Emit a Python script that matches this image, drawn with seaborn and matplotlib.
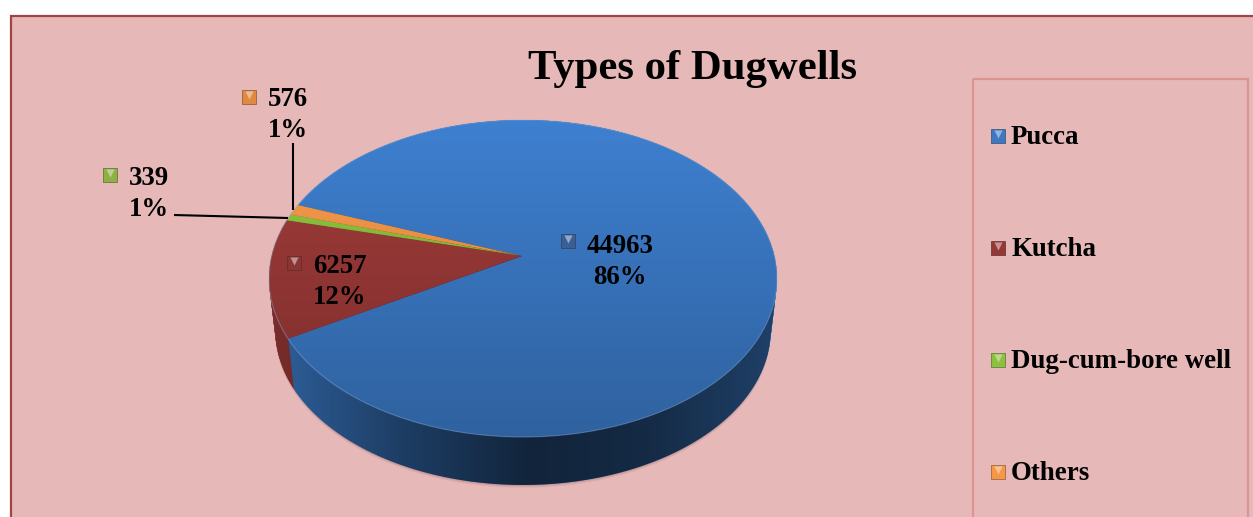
import numpy as np
import seaborn as sns, matplotlib.pyplot as plt
from matplotlib.patches import Circle, Ellipse, PathPatch, Rectangle
from matplotlib.path import Path

categories = ["Pucca", "Kutcha", "Dug-cum-bore well", "Others"]
well_counts = [44963, 6257, 339, 576]
pie_colors = ["#3E80D0", "#A23C3A", "#93C941", "#FF9E4C"]
chart_title = "Types of Dugwells"

WIDTH, HEIGHT = 1253, 517
BG = "#E6B8B7"
# pie geometry in picture pixels
RX, RY = 254, 158.5
SQUASH = RY / RX
CX, CY = 523, 278.5
APEX_X, APEX_Y = 522, 256
# the lower rim is a bit smaller, like in perspective
BOTTOM_SCALE = 0.975
DEPTH = 485 - (CY + RY * BOTTOM_SCALE)


def pie_y(py):
    """Picture row to y value on the stretched pie axes."""
    return (HEIGHT - py) / SQUASH


def draw_pie_layer(ax, shift, scale, zorder):
    """Een laag van de taart, geknipt op de ellips."""
    wedges, _ = ax.pie(well_counts, colors=sns.color_palette(pie_colors), startangle=160, counterclock=False,
                       center=(APEX_X, pie_y(APEX_Y + shift)), radius=2 * RX,
                       wedgeprops={"zorder": zorder, "linewidth": 0})
    outline = Circle((CX, pie_y(CY + shift)), RX * scale, transform=ax.transData)
    for wedge in wedges:
        wedge.set_clip_on(True)
        wedge.set_clip_path(outline)


def add_marker(ax, x, y, color):
    ax.scatter([x], [y], marker="s", s=90, color=color, edgecolors=sns.dark_palette(color, 3)[1], linewidths=0.5,
               zorder=6)
    ax.scatter([x], [y - 2], marker="v", s=34, color=sns.light_palette(color, 3)[1], linewidths=0, zorder=7)


sns.set_theme(style="white")
plt.rcParams["font.family"] = ["Liberation Serif", "DejaVu Serif"]
plt.rcParams["font.weight"] = "bold"

fig = plt.figure(figsize=(WIDTH / 100, HEIGHT / 100), dpi=100, facecolor="white")

# background and frame, in pixels
bg_ax = fig.add_axes([0, 0, 1, 1], zorder=0)
bg_ax.set_xlim(0, WIDTH)
bg_ax.set_ylim(HEIGHT, 0)
bg_ax.axis("off")
bg_ax.add_patch(Rectangle((11, 16), WIDTH + 10, HEIGHT, facecolor=BG, edgecolor="#A04444", linewidth=1.6))
bg_ax.add_patch(Rectangle((972.5, 79), 275.5, HEIGHT, facecolor="none", edgecolor="#DC9492", linewidth=1.6))

# pie axes: y is stretched so the wedges come out squashed
pie_ax = fig.add_axes([0, 0, 1, 1], zorder=1)
pie_ax.patch.set_alpha(0)

layers = np.linspace(1, 0, 60)
for f in layers:
    draw_pie_layer(pie_ax, f * DEPTH, 1 - f * (1 - BOTTOM_SCALE), 1)

# outline of the side: lowest point over all layers for each x
angles = np.linspace(np.pi, 2 * np.pi, 300)
side_x = CX + RX * np.cos(angles)
side_low = np.full_like(side_x, pie_y(CY))
for f in layers:
    rad = RX * (1 - f * (1 - BOTTOM_SCALE))
    inside = np.clip(1 - ((side_x - CX) / rad) ** 2, 0, None)
    low = pie_y(CY + f * DEPTH) - rad * np.sqrt(inside)
    low[np.abs(side_x - CX) > rad] = pie_y(CY)
    side_low = np.minimum(side_low, low)
side_top = pie_y(CY) - RX * np.sin(angles)
side_path = Path(np.r_[np.c_[side_x, side_low], np.c_[side_x[::-1], side_top[::-1]]])
side_patch = PathPatch(side_path, transform=pie_ax.transData)

# soft shadow under the rim
for off, a in zip([3, 2, 1], [0.05, 0.08, 0.12]):
    pie_ax.add_patch(Ellipse((CX, pie_y(CY + DEPTH + off)), 2 * RX * BOTTOM_SCALE, 2 * RX * BOTTOM_SCALE,
                             facecolor="#5A2A2A", edgecolor="none", alpha=a, zorder=0.5))

shade_x = np.linspace(CX - RX, CX + RX, 256)
side_alpha = np.interp(shade_x, [269, 400, 530, 640, 777], [0.25, 0.52, 0.72, 0.68, 0.5])
side_rgba = np.zeros((1, 256, 4))
side_rgba[..., 3] = side_alpha
side_img = pie_ax.imshow(side_rgba, extent=(CX - RX, CX + RX, pie_y(500), pie_y(110)), aspect="auto", zorder=2,
                         interpolation="bilinear")
side_img.set_clip_path(side_patch)

draw_pie_layer(pie_ax, 0, 1, 3)

# top face darkens towards the front
top_rgba = np.zeros((256, 1, 4))
top_rgba[..., 3] = np.linspace(0, 0.24, 256)[:, None]
top_img = pie_ax.imshow(top_rgba, extent=(CX - RX, CX + RX, pie_y(CY + RY), pie_y(CY - RY)), aspect="auto", zorder=4,
                        interpolation="bilinear")
top_img.set_clip_path(Circle((CX, pie_y(CY)), RX, transform=pie_ax.transData))
pie_ax.add_patch(Circle((CX, pie_y(CY)), RX, facecolor="none", edgecolor="#8FB4E3", alpha=0.4, linewidth=0.8,
                        zorder=5))

pie_ax.set_aspect("auto")
pie_ax.set_xlim(0, WIDTH)
pie_ax.set_ylim(0, HEIGHT / SQUASH)

# text, leader lines and markers, in pixels
ax = fig.add_axes([0, 0, 1, 1], zorder=2)
ax.patch.set_alpha(0)
ax.set_xlim(0, WIDTH)
ax.set_ylim(HEIGHT, 0)
ax.axis("off")

ax.text(693, 69, chart_title, fontsize=30.8, ha="center", va="center", color="black")

total = sum(well_counts)
label_spots = [(620, 262), (340, 282), (149, 194), (288, 115)]
marker_spots = [(568, 241), (294, 263), (110, 175), (249, 97)]
marker_tints = ["#3A5F95", "#8A3533", "#8FB044", "#E08A3E"]
for count, spot, mark, tint in zip(well_counts, label_spots, marker_spots, marker_tints):
    ax.text(spot[0], spot[1], f"{count}\n{count / total * 100:.0f}%", fontsize=19.3, ha="center", va="center",
            linespacing=1.3, color="black")
    add_marker(ax, mark[0], mark[1], tint)

ax.plot([293, 293], [143, 210], color="black", lw=1.5, solid_capstyle="butt")
ax.plot([174, 288], [215, 218], color="black", lw=1.5, solid_capstyle="butt")

legend_rows = [137, 249, 361, 473]
legend_tints = ["#3E78C0", "#953735", "#8CC03E", "#F79646"]
for name, row, color in zip(categories, legend_rows, legend_tints):
    ax.text(1011, row, name, fontsize=19.4, ha="left", va="center", color="black")
    add_marker(ax, 998, row - 1, color)

fig.savefig("out.png", dpi=100, facecolor="white")
